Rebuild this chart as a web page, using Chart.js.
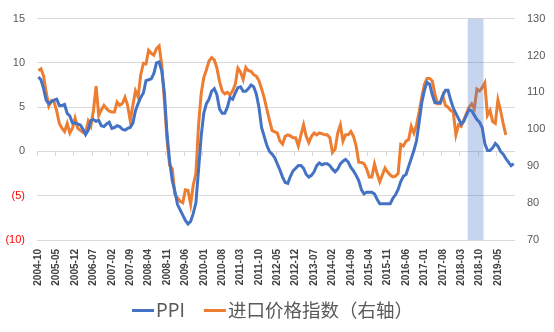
<!DOCTYPE html>
<html>
<head>
<meta charset="utf-8">
<script src="https://cdn.jsdelivr.net/npm/chart.js@4/dist/chart.umd.min.js"></script>
<style>
  html, body { margin: 0; padding: 0; background: #fff; }
  #wrap { width: 554px; height: 332px; }
</style>
</head>
<body>
<div id="wrap"><canvas id="chart"></canvas></div>
<script>
// Monthly categories, 2004-10 .. 2019-11
const firstYear = 2004, firstMonth = 10, monthCount = 182;
const months = [];
for (let i = 0; i < monthCount; i++) {
  const m = firstMonth - 1 + i;
  months.push(`${firstYear + Math.floor(m / 12)}-${String(m % 12 + 1).padStart(2, '0')}`);
}

// PPI, yoy % (left axis)
const ppi = [
  8.4, 8.1, 7.1,
  5.8, 5.4, 5.6, 5.8, 5.9, 5.2, 5.2, 5.3, 4.3, 4.0, 3.2, 3.2,
  3.1, 3.0, 2.5, 1.9, 2.4, 3.5, 3.6, 3.4, 3.5, 2.9, 2.8, 3.1,
  3.3, 2.6, 2.7, 2.9, 2.8, 2.5, 2.4, 2.6, 2.7, 3.2, 4.6, 5.4,
  6.1, 6.6, 8.0, 8.1, 8.2, 8.8, 10.0, 10.1, 9.1, 6.6, 2.0, -1.1,
  -3.3, -4.5, -6.0, -6.6, -7.2, -7.8, -8.2, -7.9, -7.0, -5.8, -2.1, 1.7,
  4.3, 5.4, 5.9, 6.8, 7.1, 6.4, 4.8, 4.3, 4.3, 5.0, 6.1, 5.9,
  6.6, 7.2, 7.3, 6.8, 6.8, 7.1, 7.5, 7.3, 6.5, 5.0, 2.7, 1.7,
  0.7, 0.0, -0.3, -0.7, -1.4, -2.1, -2.9, -3.5, -3.6, -2.8, -2.2, -1.9,
  -1.6, -1.6, -1.9, -2.6, -2.9, -2.7, -2.3, -1.6, -1.3, -1.5, -1.4, -1.4,
  -1.6, -2.0, -2.3, -2.0, -1.4, -1.1, -0.9, -1.2, -1.8, -2.2, -2.7, -3.3,
  -4.3, -4.8, -4.6, -4.6, -4.6, -4.8, -5.4, -5.9, -5.9, -5.9, -5.9, -5.9,
  -5.3, -4.9, -4.3, -3.4, -2.8, -2.6, -1.7, -0.8, 0.1, 1.2, 3.3, 5.5,
  6.9, 7.8, 7.6, 6.4, 5.5, 5.5, 5.5, 6.3, 6.9, 6.9, 5.8, 4.9,
  4.3, 3.7, 3.1, 3.4, 4.1, 4.7, 4.6, 4.1, 3.6, 3.3, 2.7, 0.9,
  0.1, 0.1, 0.4, 0.9, 0.6, 0.0, -0.3, -0.8, -1.2, -1.6, -1.4
];

// Import price index (right axis), ends 2019-08
const importPrice = [
  115.9, 116.4, 114.5,
  110, 106.3, 107.8, 107.4, 105, 101.6, 100.3, 99.4, 101.6, 99, 100.3, 103,
  100.3, 99.7, 99.2, 99, 102.2, 100.8, 105.1, 111.7, 103.8, 105.3, 106.5, 105.6,
  104.9, 104.7, 104.7, 107.4, 106.5, 107, 108.7, 106.5, 102.3, 106.5, 110.4, 108.7,
  114.8, 117.9, 117.7, 121.4, 120.6, 120.1, 121.9, 122.6, 117.5, 107.8, 97.2, 90.2,
  89.3, 82.3, 81.4, 80.5, 80.1, 83.6, 83.4, 79.7, 84.9, 88, 101, 109.6,
  114, 116.1, 118.5, 119.4, 118.8, 116.6, 113, 110.4, 109.6, 110, 109.3, 110.4,
  112.2, 116.6, 115.5, 113.5, 116.8, 115.9, 115.7, 114.8, 114.4, 113.2, 111, 108.5,
  105.5, 102.5, 99.7, 99.3, 99, 96.8, 96, 98.1, 98.5, 98.2, 97.7, 97.7,
  95.5, 98.5, 101.2, 98.1, 96.4, 98.1, 99, 98.5, 99, 98.8, 98.5, 98.5,
  97.7, 93.7, 94.6, 99, 101.2, 96.8, 98.5, 98.5, 99.4, 98.1, 95.5, 91.1,
  91, 90.7, 89.3, 87.1, 87.1, 90.6, 88, 85.8, 87.6, 89.5, 88.4, 87.6,
  87.1, 87.3, 88, 95.9, 95.5, 96.8, 97.2, 100.8, 99, 101.2, 104.7, 108.7,
  112.2, 113.8, 113.8, 113.1, 109.6, 106.9, 106.9, 109.1, 106.5, 106, 105.1, 104.7,
  98.5, 101.2, 100.8, 102.5, 104.3, 106, 106.9, 105.6, 110.9, 110.4, 111.3, 112.6,
  103.8, 105.1, 102.1, 101.6, 108, 105.1, 101.6, 98.5
];

// Shaded period
const shadedMonths = ['2018-06', '2018-07', '2018-08', '2018-09', '2018-10', '2018-11'];
const shadeTop = 130;

const labelEvery = 7;
const blue = '#4472C4';
const orange = '#ED7D31';
const gray = '#595959';

// month boundaries (one more than months) so the shade can be one solid bar
const bounds = months.concat(['end']);
const shadeCenter = months.indexOf(shadedMonths[0]) + shadedMonths.length / 2;
const shadeData = bounds.map((b, i) => (i === shadeCenter ? shadeTop : null));

// small canvas used as the legend line marker (line sits on its right side)
function legendLine(color) {
  const c = document.createElement('canvas');
  c.width = 44;
  c.height = 3;
  const g = c.getContext('2d');
  g.fillStyle = color;
  g.fillRect(21, 0, 22, 3);
  return c;
}

Chart.defaults.font.family = 'Liberation Sans';

const ctx = document.getElementById('chart').getContext('2d');
new Chart(ctx, {
  data: {
    labels: months,
    datasets: [
      {
        type: 'line',
        label: 'PPI',
        data: ppi,
        yAxisID: 'y',
        borderColor: blue,
        backgroundColor: blue,
        borderWidth: 3,
        pointRadius: 0,
        pointHoverRadius: 0,
        pointStyle: legendLine(blue),
        tension: 0,
        order: 0,
      },
      {
        type: 'line',
        label: '进口价格指数（右轴）',
        data: importPrice,
        yAxisID: 'y1',
        borderColor: orange,
        backgroundColor: orange,
        borderWidth: 3,
        pointRadius: 0,
        pointHoverRadius: 0,
        pointStyle: legendLine(orange),
        tension: 0,
        order: 2,
      },
      {
        type: 'bar',
        label: 'shade',
        data: shadeData,
        xAxisID: 'xBand',
        yAxisID: 'y1',
        backgroundColor: 'rgba(68, 114, 196, 0.3)',
        borderWidth: 0,
        grouped: false,
        barPercentage: shadedMonths.length,
        categoryPercentage: 1,
        order: 1,
      },
    ],
  },
  options: {
    responsive: true,
    maintainAspectRatio: false,
    animation: false,
    devicePixelRatio: 1,
    layout: { padding: { top: 12, left: -22, right: 0, bottom: 2.75 } },
    plugins: {
      tooltip: { enabled: false },
      legend: {
        position: 'bottom',
        labels: {
          usePointStyle: true,
          pointStyleWidth: 27.75,
          padding: 6,
          color: gray,
          font: { family: 'Noto Sans CJK SC', size: 18.5 },
          filter: item => item.datasetIndex !== 2,
        },
      },
    },
    scales: {
      x: {
        type: 'category',
        position: 'bottom',
        offset: true,
        grid: { display: false, drawTicks: false },
        border: { display: false },
        ticks: {
          autoSkip: false,
          minRotation: 90,
          maxRotation: 90,
          padding: 9,
          color: '#404040',
          font: { size: 10, weight: 'bold' },
          callback: (v, i) => (i % labelEvery === 0 ? months[i] : ''),
        },
        afterFit: s => { s.height = 54.75; },
      },
      // hidden axis on month boundaries, carries the shaded band
      xBand: {
        type: 'category',
        labels: bounds,
        position: 'bottom',
        offset: false,
        display: false,
        ticks: { autoSkip: false },
      },
      // tick marks sitting on the zero line
      xZero: {
        type: 'category',
        axis: 'x',
        labels: months,
        position: { y: 0 },
        offset: true,
        grid: {
          offset: true,
          drawOnChartArea: false,
          drawTicks: true,
          tickLength: 5,
          color: c => (c.index % labelEvery === 0 ? '#d9d9d9' : 'rgba(0,0,0,0)'),
        },
        border: { display: false },
        ticks: { display: false, autoSkip: false },
      },
      y: {
        position: 'left',
        min: -10,
        max: 15,
        grid: { color: '#d9d9d9', drawTicks: false },
        border: { display: false },
        ticks: {
          stepSize: 5,
          padding: 12,
          font: { size: 11 },
          color: c => (c.tick.value < 0 ? '#FF0000' : gray),
          callback: v => (v < 0 ? `(${-v})` : `${v}`),
        },
        afterFit: s => { s.width = 59; },
      },
      y1: {
        position: 'right',
        min: 70,
        max: 130,
        grid: { drawOnChartArea: false, drawTicks: false },
        border: { display: false },
        ticks: { stepSize: 10, padding: 12, font: { size: 11 }, color: gray },
        afterFit: s => { s.width = 39; },
      },
    },
  },
});
</script>
</body>
</html>
